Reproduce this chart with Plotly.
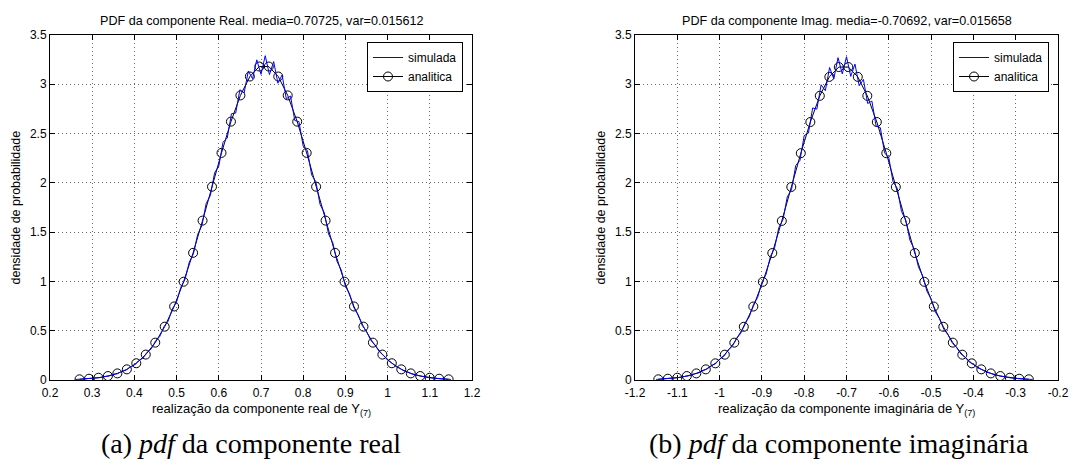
import plotly.graph_objects as go

# ---------------- data ----------------
real_sim_x = [0.26, 0.27, 0.28, 0.29, 0.30, 0.31, 0.32, 0.33, 0.34, 0.35,
              0.36, 0.37, 0.38, 0.39, 0.40, 0.41, 0.42, 0.43, 0.44, 0.45,
              0.46, 0.47, 0.48, 0.49, 0.50, 0.51, 0.52, 0.53, 0.54, 0.55,
              0.56, 0.57, 0.58, 0.59, 0.60, 0.61, 0.62, 0.63, 0.64, 0.65,
              0.66, 0.67, 0.68, 0.69, 0.70, 0.71, 0.72, 0.73, 0.74, 0.75,
              0.76, 0.77, 0.78, 0.79, 0.80, 0.81, 0.82, 0.83, 0.84, 0.85,
              0.86, 0.87, 0.88, 0.89, 0.90, 0.91, 0.92, 0.93, 0.94, 0.95,
              0.96, 0.97, 0.98, 0.99, 1.00, 1.01, 1.02, 1.03, 1.04, 1.05,
              1.06, 1.07, 1.08, 1.09, 1.10, 1.11, 1.12, 1.13, 1.14, 1.15]
real_sim_y = [0.005, 0.008, 0.009, 0.013, 0.015, 0.022, 0.025, 0.036, 0.041, 0.057,
              0.064, 0.088, 0.099, 0.133, 0.150, 0.196, 0.220, 0.281, 0.316, 0.395,
              0.441, 0.540, 0.598, 0.722, 0.793, 0.941, 1.021, 1.195, 1.281, 1.478,
              1.566, 1.789, 1.872, 2.101, 2.170, 2.412, 2.455, 2.701, 2.708, 2.945,
              2.911, 3.135, 3.055, 3.248, 3.101, 3.290, 3.098, 3.231, 3.011, 3.095,
              2.852, 2.881, 2.633, 2.620, 2.372, 2.326, 2.081, 2.011, 1.780, 1.697,
              1.482, 1.393, 1.205, 1.117, 0.953, 0.872, 0.735, 0.664, 0.553, 0.493,
              0.405, 0.357, 0.289, 0.252, 0.201, 0.174, 0.136, 0.117, 0.089, 0.077,
              0.057, 0.049, 0.036, 0.030, 0.022, 0.018, 0.013, 0.011, 0.007, 0.006]

real_ana_x = [0.2699, 0.2924, 0.3148, 0.3372, 0.3597, 0.3821, 0.4045, 0.4269, 0.4494, 0.4718,
              0.4942, 0.5166, 0.5391, 0.5615, 0.5839, 0.6064, 0.6288, 0.6512, 0.6736, 0.6961,
              0.7185, 0.7409, 0.7633, 0.7858, 0.8082, 0.8306, 0.8530, 0.8755, 0.8979, 0.9203,
              0.9428, 0.9652, 0.9876, 1.0100, 1.0325, 1.0549, 1.0773, 1.0997, 1.1222, 1.1446]
real_ana_y = [0.007, 0.013, 0.023, 0.040, 0.067, 0.108, 0.170, 0.258, 0.379, 0.541,
              0.746, 0.997, 1.290, 1.617, 1.961, 2.304, 2.621, 2.887, 3.079, 3.180,
              3.180, 3.079, 2.887, 2.621, 2.304, 1.961, 1.617, 1.290, 0.997, 0.746,
              0.541, 0.379, 0.258, 0.170, 0.108, 0.067, 0.040, 0.023, 0.013, 0.007]

imag_sim_x = [-1.15, -1.14, -1.13, -1.12, -1.11, -1.10, -1.09, -1.08, -1.07, -1.06,
              -1.05, -1.04, -1.03, -1.02, -1.01, -1.00, -0.99, -0.98, -0.97, -0.96,
              -0.95, -0.94, -0.93, -0.92, -0.91, -0.90, -0.89, -0.88, -0.87, -0.86,
              -0.85, -0.84, -0.83, -0.82, -0.81, -0.80, -0.79, -0.78, -0.77, -0.76,
              -0.75, -0.74, -0.73, -0.72, -0.71, -0.70, -0.69, -0.68, -0.67, -0.66,
              -0.65, -0.64, -0.63, -0.62, -0.61, -0.60, -0.59, -0.58, -0.57, -0.56,
              -0.55, -0.54, -0.53, -0.52, -0.51, -0.50, -0.49, -0.48, -0.47, -0.46,
              -0.45, -0.44, -0.43, -0.42, -0.41, -0.40, -0.39, -0.38, -0.37, -0.36,
              -0.35, -0.34, -0.33, -0.32, -0.31, -0.30, -0.29, -0.28, -0.27, -0.26]
imag_sim_y = [0.006, 0.009, 0.010, 0.015, 0.017, 0.024, 0.028, 0.039, 0.045, 0.062,
              0.071, 0.096, 0.110, 0.145, 0.163, 0.213, 0.240, 0.304, 0.342, 0.423,
              0.474, 0.576, 0.640, 0.766, 0.838, 0.992, 1.074, 1.252, 1.340, 1.546,
              1.628, 1.858, 1.930, 2.176, 2.228, 2.480, 2.505, 2.760, 2.748, 2.995,
              2.935, 3.170, 3.055, 3.270, 3.105, 3.280, 3.080, 3.205, 2.985, 3.050,
              2.805, 2.830, 2.575, 2.560, 2.305, 2.255, 2.012, 1.945, 1.710, 1.625,
              1.418, 1.329, 1.148, 1.058, 0.902, 0.822, 0.691, 0.622, 0.516, 0.459,
              0.377, 0.331, 0.266, 0.233, 0.183, 0.159, 0.123, 0.107, 0.081, 0.069,
              0.052, 0.044, 0.032, 0.027, 0.020, 0.016, 0.012, 0.010, 0.007, 0.005]

imag_ana_x = [-1.1449, -1.1224, -1.1000, -1.0775, -1.0550, -1.0326, -1.0101, -0.9877, -0.9652, -0.9428,
              -0.9203, -0.8978, -0.8754, -0.8529, -0.8305, -0.8080, -0.7855, -0.7631, -0.7406, -0.7182,
              -0.6957, -0.6733, -0.6508, -0.6283, -0.6059, -0.5834, -0.5610, -0.5385, -0.5160, -0.4936,
              -0.4711, -0.4487, -0.4262, -0.4038, -0.3813, -0.3588, -0.3364, -0.3139, -0.2915, -0.2690]
imag_ana_y = [0.007, 0.013, 0.023, 0.040, 0.067, 0.108, 0.169, 0.257, 0.379, 0.540,
              0.745, 0.996, 1.288, 1.614, 1.958, 2.301, 2.617, 2.883, 3.075, 3.175,
              3.175, 3.075, 2.883, 2.617, 2.301, 1.958, 1.614, 1.288, 0.996, 0.745,
              0.540, 0.379, 0.257, 0.169, 0.108, 0.067, 0.040, 0.023, 0.013, 0.007]

real_xticks = [0.2, 0.3, 0.4, 0.5, 0.6, 0.7, 0.8, 0.9, 1.0, 1.1, 1.2]
real_xticklabels = ["0.2", "0.3", "0.4", "0.5", "0.6", "0.7", "0.8", "0.9", "1", "1.1", "1.2"]
imag_xticks = [-1.2, -1.1, -1.0, -0.9, -0.8, -0.7, -0.6, -0.5, -0.4, -0.3, -0.2]
imag_xticklabels = ["-1.2", "-1.1", "-1", "-0.9", "-0.8", "-0.7", "-0.6", "-0.5", "-0.4", "-0.3", "-0.2"]
yticks = [0, 0.5, 1.0, 1.5, 2.0, 2.5, 3.0, 3.5]
yticklabels = ["0", "0.5", "1", "1.5", "2", "2.5", "3", "3.5"]

series_names = ["simulada", "analitica"]
titles = ["PDF da componente Real. media=0.70725, var=0.015612",
          "PDF da componente Imag. media=-0.70692, var=0.015658"]
xlabels = ["realização da componente real de Y<sub>(7)</sub>",
           "realização da componente imaginária de Y<sub>(7)</sub>"]
ylabel = "densidade de probabilidade"
captions = ["(a) <i>pdf</i> da componente real",
            "(b) <i>pdf</i> da componente imaginária"]

# ---------------- layout geometry (pixels) ----------------
W, H = 1081, 469
left_px = [(50, 472), (635, 1058)]
caption_cx = [251, 839]
top_px, bot_px = 35, 380

def px_x(p):
    return p / W

def px_y(p):
    return 1 - p / H

SANS = "Liberation Sans, Arial, sans-serif"
SERIF = "Liberation Serif, Times New Roman, serif"

fig = go.Figure()

panels = [
    (real_sim_x, real_sim_y, real_ana_x, real_ana_y, "x", "y", "legend"),
    (imag_sim_x, imag_sim_y, imag_ana_x, imag_ana_y, "x2", "y2", "legend2"),
]
for sx, sy, ax, ay, xa, ya, lg in panels:
    fig.add_trace(go.Scatter(x=ax, y=ay, mode="lines+markers", name=series_names[1],
                             line=dict(color="black", width=1),
                             marker=dict(symbol="circle-open", size=9,
                                         color="black", line=dict(width=1)),
                             xaxis=xa, yaxis=ya, legend=lg, legendrank=2))
    fig.add_trace(go.Scatter(x=sx, y=sy, mode="lines", name=series_names[0],
                             line=dict(color="#0000FF", width=1),
                             xaxis=xa, yaxis=ya, legend=lg, legendrank=1))

axis_common = dict(
    showline=True, linecolor="black", linewidth=1, mirror="ticks",
    ticks="inside", ticklen=5, tickcolor="black", tickwidth=1,
    showgrid=True, gridcolor="rgba(0,0,0,0.6)", gridwidth=1, griddash="1px,3px",
    zeroline=False, tickfont=dict(family=SANS, size=12, color="black"),
    automargin=False, fixedrange=True,
)

layout = dict(
    width=W, height=H, margin=dict(l=0, r=0, t=0, b=0),
    paper_bgcolor="white", plot_bgcolor="white",
    font=dict(family=SANS, size=12, color="black"),
    xaxis=dict(domain=[px_x(left_px[0][0]), px_x(left_px[0][1])], range=[0.2, 1.2],
               tickvals=real_xticks, ticktext=real_xticklabels, anchor="y",
               ticklabelstandoff=2, **axis_common),
    yaxis=dict(domain=[px_y(bot_px), px_y(top_px)], range=[0, 3.5],
               tickvals=yticks, ticktext=yticklabels, anchor="x", **axis_common),
    xaxis2=dict(domain=[px_x(left_px[1][0]), px_x(left_px[1][1])], range=[-1.2, -0.2],
                tickvals=imag_xticks, ticktext=imag_xticklabels, anchor="y2",
                ticklabelstandoff=2, **axis_common),
    yaxis2=dict(domain=[px_y(bot_px), px_y(top_px)], range=[0, 3.5],
                tickvals=yticks, ticktext=yticklabels, anchor="x2", **axis_common),
    showlegend=True,
)
for i, key in enumerate(["legend", "legend2"]):
    x0 = left_px[i][1] - 105
    layout[key] = dict(x=px_x(x0), y=px_y(42), xanchor="left", yanchor="top",
                       bgcolor="white", bordercolor="black", borderwidth=1,
                       font=dict(family=SANS, size=12, color="black"),
                       itemwidth=30, tracegroupgap=0, traceorder="normal")
fig.update_layout(**layout)

annotations = []
for i in range(2):
    cx = (left_px[i][0] + left_px[i][1]) / 2
    annotations.append(dict(text=titles[i], x=px_x(cx), y=px_y(21), xref="paper", yref="paper",
                            showarrow=False, xanchor="center", yanchor="middle",
                            font=dict(family=SANS, size=12.6, color="black")))
    annotations.append(dict(text=xlabels[i], x=px_x(cx), y=px_y(409), xref="paper", yref="paper",
                            showarrow=False, xanchor="center", yanchor="middle",
                            font=dict(family=SANS, size=13, color="black")))
    annotations.append(dict(text=ylabel, x=px_x(left_px[i][0] - 35), y=px_y((top_px + bot_px) / 2),
                            xref="paper", yref="paper", textangle=-90,
                            showarrow=False, xanchor="center", yanchor="middle",
                            font=dict(family=SANS, size=12.5, color="black")))
    annotations.append(dict(text=captions[i], x=px_x(caption_cx[i]), y=px_y(443), xref="paper", yref="paper",
                            showarrow=False, xanchor="center", yanchor="middle",
                            font=dict(family=SERIF, size=28, color="black")))
fig.update_layout(annotations=annotations)

fig.write_html("out.html")
